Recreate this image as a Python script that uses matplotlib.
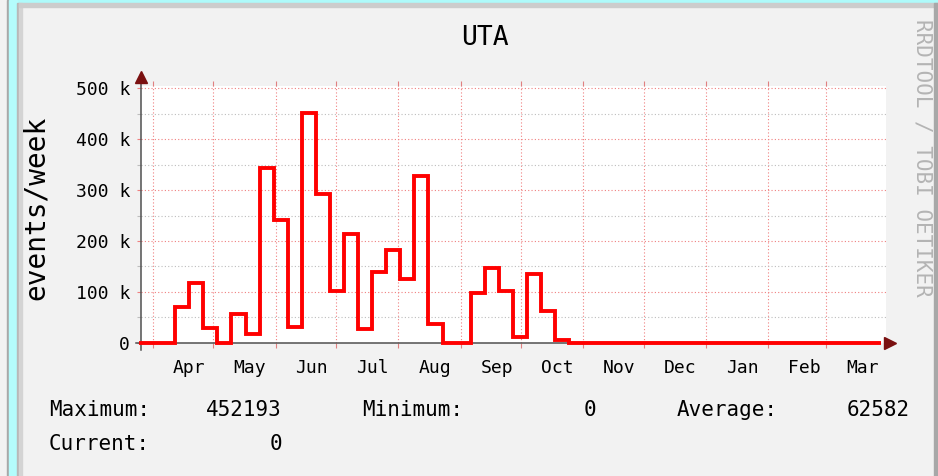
import datetime as dt
import matplotlib
matplotlib.use("Agg")
import matplotlib.pyplot as plt
import matplotlib.dates as mdates
from matplotlib.patches import Rectangle
from matplotlib.ticker import MultipleLocator, FuncFormatter
import pandas as pd

# ---------------- data (events per week) ----------------
first_week = "2011-03-22"
events = [0, 0, 0, 71000, 118000, 28000, 0, 56000, 17000, 343000,
          242000, 31000, 452193, 293000, 102000, 213000, 26000, 138000, 182000, 126000,
          328000, 36000, 0, 0, 97000, 146000, 102000, 12000, 136000, 62000,
          6000, 0, 0, 0, 0, 0, 0, 0, 0, 0,
          0, 0, 0, 0, 0, 0, 0, 0, 0, 0,
          0, 0, 0]
title = "UTA"
ylabel = "events/week"
stats = [("Maximum:", "452193"), ("Minimum:", "0"), ("Average:", "62582")]
current = ("Current:", "0")

x_start = dt.datetime(2011, 3, 26)
x_end = x_start + dt.timedelta(days=370.6)

# ---------------- figure ----------------
W, H = 938, 476
def fx(p):
    return p / W
def fy(p):
    return 1 - p / H

mono = "DejaVu Sans Mono"
fig = plt.figure(figsize=(W / 100, H / 100), dpi=100, facecolor="#f2f2f2")

# frame / borders round the panel
def band(x, y, w, h, color):
    fig.patches.append(Rectangle((fx(x), fy(y + h)), w / W, h / H,
                                 transform=fig.transFigure, color=color, zorder=0))

band(9, 0, 929, 3, "#aefafa")
band(7, 0, 2, H, "#a8a8a8")
band(9, 0, 8, H, "#b4fcfc")
band(17, 3, 2, H, "#b8b8b8")
band(19, 3, 3, H, "#d4d4d4")
band(19, 3, 919, 4, "#cccccc")
band(934, 3, 4, H, "#a8a8a8")

ax = fig.add_axes([fx(141), fy(342.7), fx(886) - fx(141), fy(86) - fy(342.7)])
ax.set_facecolor("white")
for s in ax.spines.values():
    s.set_visible(False)

ymax = 500000 * (342.7 - 86) / (342.7 - 88.3)
ax.set_ylim(0, ymax)
ax.set_xlim(x_start, x_end)

# weekly step line
weeks = list(pd.date_range(first_week, periods=len(events), freq="7D").to_pydatetime())
edges = weeks + [weeks[-1] + dt.timedelta(days=7)]
edges[0] = max(edges[0], x_start)
ax.step(edges, events + [events[-1]], where="post", color="#ff0000", lw=2.8,
        solid_joinstyle="miter", clip_on=False, zorder=5)

# grid
ax.yaxis.set_major_locator(MultipleLocator(100000))
ax.yaxis.set_minor_locator(MultipleLocator(50000))
ax.yaxis.set_major_formatter(FuncFormatter(lambda v, p: f"{int(v / 1000)} k" if v else "0"))
ax.xaxis.set_major_locator(mdates.MonthLocator())
ax.xaxis.set_major_formatter(plt.NullFormatter())
ax.xaxis.set_minor_locator(mdates.MonthLocator(bymonthday=19))
ax.xaxis.set_minor_formatter(mdates.DateFormatter("%b"))

ax.grid(which="major", axis="both", color="#f08080", ls=(0, (1, 2)), lw=0.8)
ax.grid(which="minor", axis="y", color="#bdbdbd", ls=(0, (1, 2)), lw=0.8)
ax.set_axisbelow(True)

ax.tick_params(axis="y", which="major", direction="out", length=3, width=0.8,
               color="#f08080", pad=5, labelsize=13)
ax.tick_params(axis="y", which="minor", direction="out", length=3, width=0.8,
               color="#bdbdbd")
ax.tick_params(axis="x", which="major", direction="out", length=3.5, width=0.8,
               color="#e08080", top=True)
ax.tick_params(axis="x", which="minor", length=0, pad=11.5, labelsize=13)
for lab in ax.get_xticklabels(minor=True) + ax.get_yticklabels():
    lab.set_family(mono)

# axes with arrows
ax.plot([0, 0], [-0.03, 1.02], transform=ax.transAxes, color="#505050", lw=1.1,
        clip_on=False, zorder=4)
ax.plot([-0.007, 0.992], [0, 0], transform=ax.transAxes, color="#505050", lw=1.1,
        clip_on=False, zorder=4)
ax.plot([0], [1 + 9 / 256.7], marker="^", ms=8, color="#7a1010",
        transform=ax.transAxes, clip_on=False, zorder=6)
ax.plot([1 + 3.5 / 745], [0], marker=">", ms=8, color="#7a1010",
        transform=ax.transAxes, clip_on=False, zorder=6)

# texts
fig.text(fx(485), fy(38), title, ha="center", va="center", family=mono, fontsize=19)
fig.text(fx(36), fy(208), ylabel, ha="center", va="center", rotation=90,
         family=mono, fontsize=20)
fig.text(fx(922), fy(158), "RRDTOOL / TOBI OETIKER", ha="center", va="center",
         rotation=-90, family=mono, fontsize=15, color="#b4b4b4")

label_x = [49, 362, 677]
value_x = [282, 596, 910]
for (name, val), lx, vx in zip(stats, label_x, value_x):
    fig.text(fx(lx), fy(416), name, ha="left", va="baseline", family=mono, fontsize=15)
    fig.text(fx(vx), fy(416), val, ha="right", va="baseline", family=mono, fontsize=15)
fig.text(fx(49), fy(450), current[0], ha="left", va="baseline", family=mono, fontsize=15)
fig.text(fx(282), fy(450), current[1], ha="right", va="baseline", family=mono, fontsize=15)

fig.savefig("out.png", dpi=100, facecolor=fig.get_facecolor())
